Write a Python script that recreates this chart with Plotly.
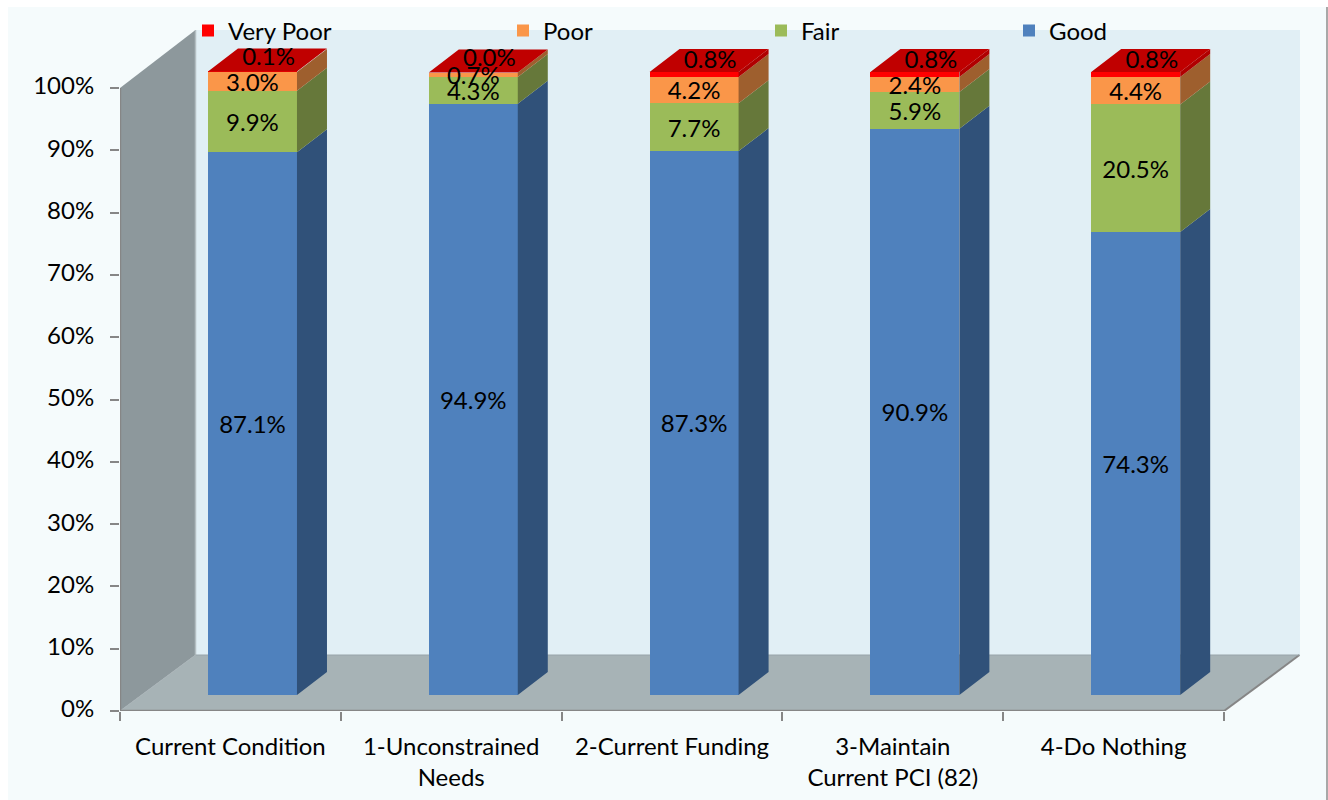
import numpy as np
import plotly.graph_objects as go

categories = ["Current Condition", "1-Unconstrained<br>Needs", "2-Current Funding",
              "3-Maintain<br>Current PCI (82)", "4-Do Nothing"]
good = [87.1, 94.9, 87.3, 90.9, 74.3]
fair = [9.9, 4.3, 7.7, 5.9, 20.5]
poor = [3.0, 0.7, 4.2, 2.4, 4.4]
very_poor = [0.1, 0.0, 0.8, 0.8, 0.8]
y_ticks = list(range(0, 101, 10))
y_tick_labels = [f"{v}%" for v in y_ticks]

series = [
    ("Good", good, "#4F81BD", "#305179"),
    ("Fair", fair, "#9BBB59", "#66783A"),
    ("Poor", poor, "#FA9649", "#9E5F2E"),
    ("Very Poor", very_poor, "#FF0000", "#B00000"),
]
TOP_COLOR = "#C00000"
FONT = "Lato"
FS = 24

# 3-D geometry in axis units
PX_X = 220.8
PX_Y = 6.23
X_MAX = 1180 / PX_X
Y_MAX = 681 / PX_Y
FLOOR_DX = 75.5 / PX_X
FLOOR_DY = 56 / PX_Y
BAR_DX = 0.1
BAR_DY = 16 / PX_Y
BAR_W = 89 / PX_X
SIDE_DX = 30 / PX_X
SIDE_DY = 23 / PX_Y
LABEL_DROP = 0.55

x_pos = np.arange(len(categories)) + 0.5
bar_x = x_pos + BAR_DX
fig = go.Figure()

cum = np.zeros(len(categories))
label_x, label_y, label_text = [], [], []
sides = []
for name, vals, col, side in series:
    vals = np.array(vals)
    base = cum + BAR_DY
    sx, sy = [], []
    for xc, b, v in zip(bar_x, base, vals):
        xr = xc + BAR_W / 2
        sx += [xr, xr + SIDE_DX, xr + SIDE_DX, xr, xr, None]
        sy += [b, b + SIDE_DY, b + v + SIDE_DY, b + v, b, None]
    sides.append((sx, sy, side))
    legend_id = {"Good": "legend4", "Fair": "legend3", "Poor": "legend2", "Very Poor": "legend"}[name]
    fig.add_trace(go.Bar(x=bar_x, y=vals, base=base, width=BAR_W, name=name,
                         marker=dict(color=col, line=dict(width=0)),
                         legend=legend_id, hoverinfo="y+name"))
    for xc, b, v in zip(bar_x, base, vals):
        if name == "Very Poor":
            label_x.append(xc + SIDE_DX / 2 + 0.005)
            label_y.append(b + v / 2 + SIDE_DY / 2 + 0.2)
        else:
            label_x.append(xc)
            label_y.append(b + v / 2 - LABEL_DROP)
        label_text.append(f"{v:.1f}%")
    cum = cum + vals

for sx, sy, side in sides:
    fig.add_trace(go.Scatter(x=sx, y=sy, mode="lines", fill="toself", fillcolor=side,
                             line=dict(width=0), showlegend=False, hoverinfo="skip"))

# top faces
tx, ty = [], []
for xc, t in zip(bar_x, cum + BAR_DY):
    xl, xr = xc - BAR_W / 2, xc + BAR_W / 2
    tx += [xl, xr, xr + SIDE_DX, xl + SIDE_DX, xl, None]
    ty += [t, t, t + SIDE_DY, t + SIDE_DY, t, None]
fig.add_trace(go.Scatter(x=tx, y=ty, mode="lines", fill="toself", fillcolor=TOP_COLOR,
                         line=dict(width=0), showlegend=False, hoverinfo="skip"))

# axis lines
AX = "#868686"
fig.add_trace(go.Scatter(x=[0, 0], y=[0, 100], mode="lines", line=dict(color=AX, width=2.5),
                         cliponaxis=False, showlegend=False, hoverinfo="skip"))
fig.add_trace(go.Scatter(x=[0, 5], y=[0, 0], mode="lines", line=dict(color=AX, width=2.5),
                         cliponaxis=False, showlegend=False, hoverinfo="skip"))

fig.add_trace(go.Scatter(x=label_x, y=label_y, text=label_text, mode="text", cliponaxis=False,
                         textposition="middle center",
                         textfont=dict(family=FONT, size=FS, color="#000000"),
                         showlegend=False, hoverinfo="skip"))

def poly(xs, ys):
    return "M" + "L".join(f"{a},{b}" for a, b in zip(xs, ys)) + "Z"

shapes = [
    # panel behind the chart
    dict(type="rect", xref="paper", yref="paper", layer="below",
         x0=(8 - 120) / 1180, x1=(1326 - 120) / 1180, y0=(711 - 800) / 681, y1=(711 - 7) / 681,
         fillcolor="#F5FBFC", line=dict(width=0)),
    dict(type="rect", xref="paper", yref="paper", layer="below",
         x0=(1326 - 120) / 1180, x1=(1328 - 120) / 1180, y0=(711 - 800) / 681, y1=(711 - 7) / 681,
         fillcolor="#A8A8A8", line=dict(width=0)),
    # back wall
    dict(type="rect", xref="x", yref="y", layer="below", x0=FLOOR_DX, x1=X_MAX, y0=FLOOR_DY, y1=Y_MAX,
         fillcolor="#E1EFF5", line=dict(width=0)),
    # side wall
    dict(type="path", xref="x", yref="y", layer="below",
         path=poly([0, FLOOR_DX, FLOOR_DX, 0], [0, FLOOR_DY, Y_MAX, 100]),
         fillcolor="#8D989C", line=dict(width=0)),
    dict(type="line", xref="x", yref="y", layer="below", x0=FLOOR_DX, x1=FLOOR_DX, y0=FLOOR_DY, y1=Y_MAX,
         line=dict(color="#B4BEC2", width=1.5)),
    # floor
    dict(type="path", xref="x", yref="y", layer="below",
         path=poly([0, 5, 5 + FLOOR_DX, FLOOR_DX], [0, 0, FLOOR_DY, FLOOR_DY]),
         fillcolor="#A7B3B6", line=dict(width=0)),
    dict(type="line", xref="x", yref="y", layer="below", x0=5, x1=5 + FLOOR_DX, y0=0, y1=FLOOR_DY,
         line=dict(color="#868686", width=2)),
    dict(type="line", xref="x", yref="y", layer="below", x0=FLOOR_DX, x1=5 + FLOOR_DX, y0=FLOOR_DY, y1=FLOOR_DY,
         line=dict(color="#98A4A9", width=1)),
    dict(type="line", xref="x", yref="y", layer="below", x0=0, x1=FLOOR_DX, y0=0, y1=FLOOR_DY,
         line=dict(color="#A9B3B7", width=1)),
]

def legend_at(px):
    return dict(x=(px - 120) / 1180, y=(711 - 31) / 681, xanchor="left", yanchor="middle",
                bgcolor="rgba(0,0,0,0)", borderwidth=0, itemwidth=30,
                font=dict(family=FONT, size=FS, color="#000000"))

fig.update_layout(
    width=1328, height=800,
    margin=dict(l=120, r=28, t=30, b=89, pad=0, autoexpand=False),
    paper_bgcolor="#FFFFFF", plot_bgcolor="rgba(0,0,0,0)",
    barmode="overlay", bargap=0,
    font=dict(family=FONT, size=FS, color="#000000"),
    shapes=shapes,
    showlegend=True,
    legend=legend_at(188),
    legend2=legend_at(503),
    legend3=legend_at(761),
    legend4=legend_at(1009),
    xaxis=dict(range=[0, X_MAX], tickmode="array", tickvals=list(x_pos), ticktext=categories,
               ticks="outside", ticklen=14, tickcolor="rgba(0,0,0,0)", tickangle=0, automargin=False,
               tickfont=dict(family=FONT, size=FS),
               minor=dict(ticks="outside", ticklen=9, tickwidth=2, tickcolor=AX, tick0=0, dtick=1, showgrid=False),
               showgrid=False, zeroline=False, showline=False),
    yaxis=dict(range=[0, Y_MAX], tickmode="array", tickvals=y_ticks, ticktext=y_tick_labels,
               ticks="outside", ticklen=9, tickwidth=2, tickcolor=AX, automargin=False,
               ticklabelstandoff=11, ticklabelshift=-2,
               tickfont=dict(family=FONT, size=FS),
               showgrid=False, zeroline=False, showline=False),
)

fig.write_html("out.html", config=dict(displayModeBar=False),
               post_script="document.body.style.margin='0';document.body.style.overflow='hidden';")
